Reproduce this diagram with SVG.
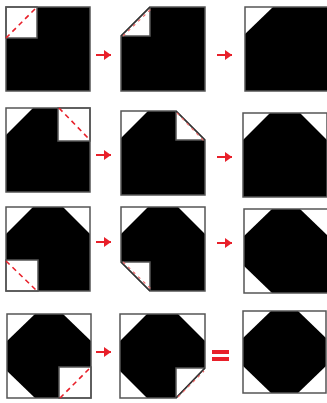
<svg xmlns="http://www.w3.org/2000/svg" width="327" height="403" viewBox="0 0 327 403">
<style>
.bg{fill:#fff}
.blk{fill:#000}
.wht{fill:#fff}
.frame{fill:none;stroke:#555;stroke-width:1.5}
.cut{fill:none;stroke:#e8202a;stroke-width:1.6;stroke-dasharray:5 4}
.fold{fill:none;stroke:#333;stroke-width:1.4}
.foldred{fill:none;stroke:#f06a6a;stroke-width:1.2;stroke-dasharray:3 4}
.arr{stroke:#e8202a;stroke-width:2;fill:none}
.eq{fill:#e8202a}
</style>
<defs>
<marker id="ah" markerUnits="userSpaceOnUse" markerWidth="8" markerHeight="10" refX="7" refY="5" orient="auto">
<path d="M0,0 L7,5 L0,10 Z" fill="#e8202a"/>
</marker>
</defs>
<rect class="bg" x="0" y="0" width="327" height="403"/>

<!-- Row 1 -->
<g id="r1c1">
<rect class="blk" x="6" y="7" width="84" height="84"/>
<rect class="wht" x="6" y="7" width="31" height="31"/>
<rect class="frame" x="6" y="7" width="84" height="84"/>
<rect class="frame" x="6" y="7" width="31" height="31"/>
<line class="cut" x1="6" y1="38" x2="37" y2="7"/>
</g>
<g id="r1c2">
<polygon class="blk" points="150,7 205,7 205,91 121,91 121,36"/>
<polygon class="wht" points="121,36 150,7 150,36"/>
<polygon class="frame" points="150,7 205,7 205,91 121,91 121,36"/>
<polyline class="frame" points="121,36 150,36 150,7"/>
<line class="fold" x1="121" y1="36" x2="150" y2="7"/>
<line class="foldred" x1="123" y1="36" x2="151" y2="9"/>
</g>
<g id="r1c3">
<rect class="blk" x="245" y="7" width="84" height="84"/>
<polygon class="wht" points="245,7 273,7 245,34"/>
<rect class="frame" x="245" y="7" width="84" height="84"/>
</g>

<!-- Row 2 -->
<g id="r2c1">
<rect class="blk" x="6" y="108" width="84" height="84"/>
<polygon class="wht" points="6,108 33,108 6,135"/>
<rect class="wht" x="58" y="108" width="32" height="33"/>
<rect class="frame" x="6" y="108" width="84" height="84"/>
<rect class="frame" x="58" y="108" width="32" height="33"/>
<line class="cut" x1="59" y1="108" x2="90" y2="140"/>
</g>
<g id="r2c2">
<polygon class="blk" points="121,111 176,111 205,140 205,195 121,195"/>
<polygon class="wht" points="121,111 148,111 121,138"/>
<polygon class="wht" points="176,111 176,140 205,140"/>
<polygon class="frame" points="121,111 176,111 205,140 205,195 121,195"/>
<polyline class="frame" points="176,111 176,140 205,140"/>
<line class="fold" x1="176" y1="111" x2="205" y2="140"/>
<line class="foldred" x1="177" y1="113" x2="204" y2="141"/>
</g>
<g id="r2c3">
<rect class="blk" x="243" y="113" width="84" height="84"/>
<polygon class="wht" points="243,113 270,113 243,140"/>
<polygon class="wht" points="300,113 327,113 327,140"/>
<rect class="frame" x="243" y="113" width="84" height="84"/>
</g>

<!-- Row 3 -->
<g id="r3c1">
<rect class="blk" x="6" y="207" width="84" height="84"/>
<polygon class="wht" points="6,207 33,207 6,234"/>
<polygon class="wht" points="63,207 90,207 90,234"/>
<rect class="wht" x="6" y="260" width="32" height="31"/>
<rect class="frame" x="6" y="207" width="84" height="84"/>
<rect class="frame" x="6" y="260" width="32" height="31"/>
<line class="cut" x1="6" y1="261" x2="37" y2="291"/>
</g>
<g id="r3c2">
<polygon class="blk" points="121,207 205,207 205,291 150,291 121,262"/>
<polygon class="wht" points="121,207 148,207 121,234"/>
<polygon class="wht" points="178,207 205,207 205,234"/>
<polygon class="wht" points="121,262 150,262 150,291"/>
<polygon class="frame" points="121,207 205,207 205,291 150,291 121,262"/>
<polyline class="frame" points="121,262 150,262 150,291"/>
<line class="fold" x1="121" y1="262" x2="150" y2="291"/>
<line class="foldred" x1="123" y1="262" x2="151" y2="289"/>
</g>
<g id="r3c3">
<rect class="blk" x="244" y="209" width="84" height="84"/>
<polygon class="wht" points="244,209 272,209 244,236"/>
<polygon class="wht" points="300,209 328,209 328,236"/>
<polygon class="wht" points="244,266 244,293 272,293"/>
<rect class="frame" x="244" y="209" width="84" height="84"/>
</g>

<!-- Row 4 -->
<g id="r4c1">
<rect class="blk" x="7" y="314" width="84" height="84"/>
<polygon class="wht" points="7,314 35,314 7,341"/>
<polygon class="wht" points="63,314 91,314 91,341"/>
<polygon class="wht" points="7,371 7,398 35,398"/>
<rect class="wht" x="59" y="367" width="32" height="31"/>
<rect class="frame" x="7" y="314" width="84" height="84"/>
<rect class="frame" x="59" y="367" width="32" height="31"/>
<line class="cut" x1="60" y1="398" x2="90" y2="368"/>
</g>
<g id="r4c2">
<polygon class="blk" points="120,314 205,314 205,368 176,398 120,398"/>
<polygon class="wht" points="120,314 147,314 120,341"/>
<polygon class="wht" points="178,314 205,314 205,341"/>
<polygon class="wht" points="120,371 120,398 147,398"/>
<polygon class="wht" points="176,368 205,368 176,398"/>
<polygon class="frame" points="120,314 205,314 205,368 176,398 120,398"/>
<polyline class="frame" points="205,368 176,368 176,398"/>
<line class="fold" x1="176" y1="398" x2="205" y2="368"/>
<line class="foldred" x1="178" y1="397" x2="204" y2="371"/>
</g>
<g id="r4c3">
<polygon class="blk" points="271,311 298,311 326,338 326,366 298,393 271,393 243,366 243,338"/>
<rect class="frame" x="243" y="311" width="83" height="82"/>
</g>

<!-- Connectors -->
<g id="connectors">
<line class="arr" x1="96" y1="55" x2="111" y2="55" marker-end="url(#ah)"/>
<line class="arr" x1="217" y1="55" x2="232" y2="55" marker-end="url(#ah)"/>
<line class="arr" x1="96" y1="155" x2="111" y2="155" marker-end="url(#ah)"/>
<line class="arr" x1="217" y1="157" x2="232" y2="157" marker-end="url(#ah)"/>
<line class="arr" x1="96" y1="242" x2="111" y2="242" marker-end="url(#ah)"/>
<line class="arr" x1="217" y1="243" x2="232" y2="243" marker-end="url(#ah)"/>
<line class="arr" x1="96" y1="352" x2="111" y2="352" marker-end="url(#ah)"/>
<rect class="eq" x="212" y="350" width="17" height="4"/>
<rect class="eq" x="212" y="357" width="17" height="4"/>
</g>
</svg>
